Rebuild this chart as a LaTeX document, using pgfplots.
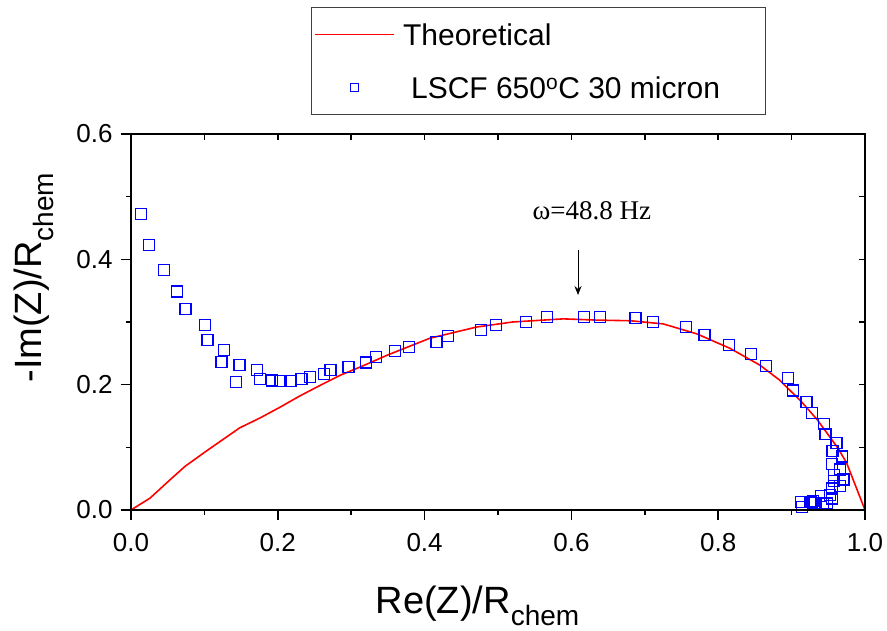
\documentclass[border=0pt]{standalone}
\usepackage{fontspec}
\setmainfont{Liberation Sans}
\newfontfamily\timesfont{Liberation Serif}
\usepackage{pgfplots}
\pgfplotsset{compat=1.18}
\usetikzlibrary{arrows.meta}
\begin{document}
\begin{tikzpicture}
\begin{axis}[
  at={(0,0)}, anchor=south west,
  scale only axis, width=734pt, height=376pt,
  xmin=0, xmax=1, ymin=0, ymax=0.6,
  xtick={0,0.2,0.4,0.6,0.8,1.0},
  minor xtick={0.1,0.3,0.5,0.7,0.9},
  ytick={0,0.2,0.4,0.6},
  minor ytick={0.1,0.3,0.5},
  xtick pos=lower, ytick pos=left,
  tick align=outside,
  major tick length=10pt, minor tick length=5pt,
  axis line style={line width=2pt},
  every tick/.style={black, line width=1.5pt},
  /pgf/number format/assume math mode=true,
  xticklabel style={/pgf/number format/.cd, fixed, fixed zerofill, precision=1, /tikz/.cd, yshift=-10pt},
  yticklabel style={/pgf/number format/.cd, fixed, fixed zerofill, precision=1, /tikz/.cd, xshift=-5pt},
  tick label style={font=\fontsize{26}{30}\selectfont},
  xlabel={Re(Z)/R\raisebox{-12pt}{\fontsize{28}{30}\selectfont chem}},
  ylabel={-Im(Z)/R\raisebox{-12pt}{\fontsize{28}{30}\selectfont chem}},
  xlabel style={font=\fontsize{38}{42}\selectfont, at={(axis description cs:0.472,-0.274)}, anchor=base},
  ylabel style={font=\fontsize{38}{42}\selectfont, at={(axis description cs:-0.1213,0.618)}, anchor=base, rotate=0},
  legend style={at={(axis description cs:0.2452,1.3378)}, anchor=north west,
    draw=black!75, line width=1pt, inner xsep=3pt, inner ysep=6pt,
    font=\fontsize{30}{34}\selectfont, row sep=11pt,
    nodes={inner ysep=10pt, text height=22pt, text depth=0pt}},
  legend cell align=left,
]
\addplot[red, line width=1.6pt, legend image code/.code={\draw[red, line width=1.6pt] (0pt,0pt) -- (79pt,0pt);}] table {
0     0
0.026 0.019
0.053 0.048
0.074 0.070
0.105 0.096
0.148 0.131
0.176 0.147
0.203 0.164
0.230 0.182
0.258 0.199
0.285 0.215
0.312 0.228
0.349 0.247
0.407 0.274
0.471 0.292
0.520 0.300
0.589 0.305
0.635 0.303
0.680 0.302
0.725 0.297
0.771 0.281
0.816 0.258
0.857 0.231
0.884 0.207
0.914 0.172
0.935 0.144
0.963 0.099
0.975 0.075
1.0   0.0
};
\addlegendentry{\hspace{6pt}Theoretical}
\addplot[only marks, mark=square, mark size=5.5pt, color=blue, mark options={line width=1.5pt},
  legend image code/.code={\path[draw=none] (0pt,0pt) -- (79pt,0pt); \draw[blue, line width=1.3pt] (35.5pt,-4pt) rectangle (43.5pt,4pt);}] table {
0.0136 0.472
0.0245 0.423
0.045 0.383
0.063 0.349
0.074 0.321
0.101 0.295
0.104 0.271
0.127 0.255
0.123 0.236
0.148 0.231
0.143 0.204
0.172 0.223
0.176 0.209
0.192 0.207
0.204 0.206
0.217 0.206
0.232 0.209
0.244 0.212
0.263 0.217
0.272 0.223
0.296 0.228
0.320 0.235
0.334 0.244
0.360 0.254
0.379 0.260
0.416 0.268
0.432 0.278
0.477 0.287
0.497 0.295
0.538 0.300
0.567 0.308
0.617 0.308
0.639 0.308
0.687 0.306
0.711 0.300
0.756 0.292
0.781 0.279
0.815 0.263
0.845 0.249
0.865 0.230
0.895 0.211
0.902 0.191
0.920 0.172
0.928 0.155
0.944 0.137
0.946 0.121
0.961 0.107
0.956 0.094
0.969 0.085
0.955 0.073
0.966 0.065
0.958 0.056
0.971 0.049
0.958 0.046
0.966 0.038
0.955 0.034
0.952 0.024
0.940 0.022
0.955 0.018
0.929 0.014
0.943 0.011
0.913 0.013
0.926 0.013
0.931 0.011
0.914 0.005
0.948 0.010
};
\addlegendentry{\hspace{14pt}LSCF 650\textsuperscript{o}C 30 micron\hspace{40pt}\mbox{}}
\draw[-{Stealth[length=9pt,width=7pt]}, line width=1pt] (axis cs:0.609,0.415) -- (axis cs:0.609,0.343);
\node[font=\timesfont\fontsize{27}{30}\selectfont, anchor=base] at (axis cs:0.628,0.463) {ω=48.8 Hz};
\end{axis}
\begin{axis}[
  at={(0,0)}, anchor=south west,
  scale only axis, width=734pt, height=376pt,
  xmin=0, xmax=1, ymin=0, ymax=0.6,
  xtick={0,0.1,0.2,0.3,0.4,0.5,0.6,0.7,0.8,0.9,1.0},
  ytick={0,0.1,0.2,0.3,0.4,0.5,0.6},
  xtick pos=upper, ytick pos=right,
  tick align=inside, major tick length=6pt,
  xticklabels={}, yticklabels={},
  axis line style={line width=2pt},
  every tick/.style={black, line width=1.5pt},
]
\end{axis}
\pgfresetboundingbox
\path (-131pt,-121pt) rectangle (756pt,510pt);
\end{tikzpicture}
\end{document}
